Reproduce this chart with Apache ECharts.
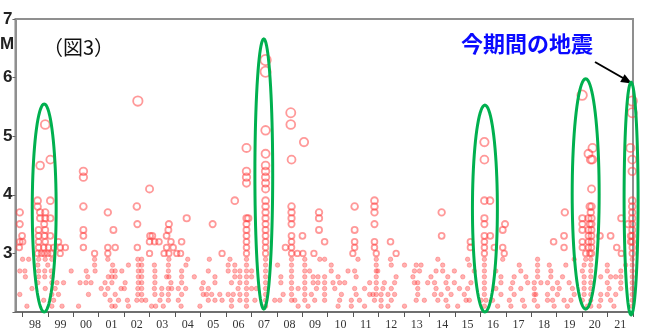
<!DOCTYPE html>
<html>
<head>
<meta charset="utf-8">
<script src="https://cdn.jsdelivr.net/npm/echarts@6/dist/echarts.min.js"></script>
<style>
  html, body { margin: 0; padding: 0; background: #fff; }
  #main { width: 652px; height: 331px; }
</style>
</head>
<body>
<div id="main"></div>
<script>
// 年ごとの目盛り / ラベル
var tickYears = [1998, 1999, 2000, 2001, 2002, 2003, 2004, 2005, 2006, 2007, 2008, 2009, 2010,
  2011, 2012, 2013, 2014, 2015, 2016, 2017, 2018, 2019, 2020, 2021, 2022];
var yearLabels = ['98', '99', '00', '01', '02', '03', '04', '05', '06', '07', '08', '09', '10',
  '11', '12', '13', '14', '15', '16', '17', '18', '19', '20', '21'];
var magTicks = [3, 4, 5, 6, 7];

// M3.0 以上の地震 [年, M]
var bigQuakes = [
  [2002.54, 5.6], [1998.9, 5.2], [1999.1, 4.6], [1998.7, 4.5], [2000.4, 4.4], [2000.4, 4.3], [2003.0, 4.1],
  [1998.6, 3.9], [1999.1, 3.9], [1998.6, 3.8], [2000.4, 3.8], [2002.5, 3.8],
  [1997.9, 3.7], [1998.7, 3.7], [1998.9, 3.7], [2001.36, 3.7],
  [1998.7, 3.6], [1998.9, 3.6], [1999.1, 3.6], [2004.46, 3.6],
  [1997.9, 3.5], [1998.86, 3.5], [2002.52, 3.5], [2003.76, 3.5], [2005.48, 3.5],
  [1998.64, 3.4], [1998.9, 3.4], [2000.4, 3.4], [2001.58, 3.4], [2003.74, 3.4],
  [1997.99, 3.3], [1998.64, 3.3], [1998.87, 3.3], [1999.1, 3.3], [2000.4, 3.3], [2003.02, 3.3], [2003.11, 3.3], [2003.67, 3.3],
  [1997.9, 3.2], [1998.01, 3.2], [1998.64, 3.2], [1998.9, 3.2], [1999.42, 3.2], [2003.0, 3.2], [2003.2, 3.2], [2003.37, 3.2], [2003.84, 3.2], [2004.26, 3.2],
  [1997.88, 3.1], [1998.64, 3.1], [1998.84, 3.1], [1999.03, 3.1], [1999.23, 3.1], [1999.49, 3.1], [1999.69, 3.1], [2000.4, 3.1], [2001.36, 3.1], [2001.65, 3.1], [2002.52, 3.1], [2003.67, 3.1], [2003.93, 3.1],
  [1998.6, 3.0], [1998.75, 3.0], [1998.87, 3.0], [1999.0, 3.0], [1999.14, 3.0], [1999.49, 3.0], [2000.84, 3.0], [2001.36, 3.0], [2003.0, 3.0], [2003.57, 3.0], [2003.76, 3.0], [2004.07, 3.0], [2004.22, 3.0], [2005.85, 3.0],
  [2007.56, 6.3], [2007.56, 6.1],
  [2008.55, 5.4], [2008.55, 5.2], [2007.56, 5.1], [2009.07, 4.9], [2006.81, 4.8], [2007.56, 4.7], [2008.58, 4.6], [2007.56, 4.5],
  [2006.81, 4.4], [2007.56, 4.4], [2006.81, 4.3], [2007.56, 4.3], [2006.81, 4.2], [2007.56, 4.2], [2007.56, 4.1],
  [2006.35, 3.9], [2007.56, 3.9], [2011.84, 3.9],
  [2007.56, 3.8], [2008.58, 3.8], [2011.06, 3.8], [2011.84, 3.8],
  [2007.56, 3.7], [2008.58, 3.7], [2009.66, 3.7], [2011.84, 3.7],
  [2006.81, 3.6], [2006.88, 3.6], [2007.56, 3.6], [2008.58, 3.6], [2009.66, 3.6],
  [2006.81, 3.5], [2007.56, 3.5], [2008.58, 3.5], [2011.84, 3.5],
  [2006.81, 3.4], [2007.56, 3.4], [2009.66, 3.4], [2011.06, 3.4],
  [2006.81, 3.3], [2007.56, 3.3], [2008.58, 3.3], [2009.01, 3.3],
  [2006.81, 3.2], [2007.56, 3.2], [2008.58, 3.2], [2009.88, 3.2], [2011.06, 3.2], [2011.84, 3.2], [2012.47, 3.2],
  [2006.81, 3.1], [2007.56, 3.1], [2008.34, 3.1], [2008.58, 3.1], [2011.06, 3.1], [2011.84, 3.1],
  [2006.81, 3.0], [2007.56, 3.0], [2008.58, 3.0], [2008.81, 3.0], [2009.03, 3.0], [2009.46, 3.0], [2010.99, 3.0], [2011.91, 3.0], [2012.69, 3.0],
  [2016.16, 4.9], [2016.16, 4.6], [2016.16, 3.9], [2016.38, 3.9], [2016.16, 3.6], [2016.16, 3.5], [2014.48, 3.7], [2014.48, 3.3],
  [2016.97, 3.5], [2016.88, 3.4], [2016.39, 3.3], [2016.16, 3.3], [2016.16, 3.2], [2015.61, 3.2], [2016.16, 3.1], [2015.61, 3.1],
  [2016.88, 3.1], [2016.55, 3.1], [2016.16, 3.0], [2016.94, 3.0],
  [2020.0, 5.7], [2020.41, 4.8], [2020.25, 4.7], [2020.34, 4.6], [2020.4, 4.6], [2020.37, 4.1],
  [2020.3, 3.8], [2020.37, 3.8], [2020.34, 3.7], [2019.32, 3.7], [2020.01, 3.6], [2020.25, 3.6], [2020.37, 3.6],
  [2020.3, 3.5], [2020.01, 3.5], [2020.37, 3.5], [2020.01, 3.4], [2020.25, 3.4], [2020.37, 3.4], [2020.25, 3.3], [2020.37, 3.3],
  [2019.29, 3.3], [2020.7, 3.3], [2018.88, 3.2], [2020.01, 3.2], [2020.25, 3.2], [2020.37, 3.2], [2019.29, 3.1], [2020.01, 3.1],
  [2020.25, 3.1], [2020.37, 3.1], [2020.14, 3.0], [2020.3, 3.0], [2020.37, 3.0],
  [2021.12, 3.3], [2021.36, 3.1], [2021.54, 3.0], [2021.54, 3.6], [2021.8, 3.5], [2021.91, 3.3], [2021.91, 3.2],
  [2021.97, 5.6], [2021.97, 5.4], [2021.9, 4.8], [2021.97, 4.6], [2021.97, 4.4], [2021.97, 3.9], [2021.97, 3.8],
  [2021.97, 3.7], [2021.97, 3.6], [2021.97, 3.5], [2021.97, 3.4], [2021.97, 3.3], [2021.97, 3.2], [2021.97, 3.1], [2021.97, 3.0]
];

// M3.0 未満 (M ごとの発生時期)
var m29 = [1998.01, 1998.25, 1998.64, 1998.90, 1999.16, 2000.84, 2001.36, 2002.54, 2002.69, 2003.76, 2004.50, 2005.35,
  2006.16, 2006.81, 2007.56, 2008.58, 2009.10, 2009.69, 2009.88, 2011.19, 2011.91, 2012.47,
  2014.33, 2015.50, 2016.16, 2016.88, 2018.25, 2019.69, 2020.14, 2020.34, 2021.97];
var m28 = [1998.61, 1999.00, 2000.84, 2001.55, 2002.17, 2002.56, 2002.69, 2003.19, 2003.74, 2004.43,
  2006.09, 2006.35, 2006.81, 2007.56, 2008.03, 2008.58, 2009.10, 2010.14, 2011.91, 2012.50, 2013.02, 2013.48, 2013.67,
  2014.52, 2015.57, 2016.16, 2017.53, 2018.25, 2018.71, 2019.36, 2020.08, 2020.34, 2020.99, 2021.71, 2021.97];
var m27 = [1997.90, 1998.10, 1998.64, 1998.88, 1999.14, 1999.92, 2000.51, 2000.86, 2001.52, 2001.65, 2001.91, 2002.56, 2002.69, 2003.21, 2003.74, 2004.26, 2005.31,
  2006.09, 2006.35, 2006.55, 2006.81, 2007.01, 2007.56, 2008.58, 2009.10, 2009.29, 2010.14, 2010.80, 2011.06, 2011.91, 2011.97, 2013.41, 2013.61,
  2014.26, 2014.52, 2014.98, 2015.76, 2016.16, 2016.61, 2017.59, 2018.25, 2018.77, 2020.01, 2020.34, 2020.99, 2021.52, 2021.97];
var m26 = [1998.12, 1998.64, 1998.88, 1999.16, 2000.57, 2001.38, 2001.52, 2001.65, 2002.56, 2002.69, 2003.21, 2003.67, 2003.76, 2004.26, 2004.76, 2005.57,
  2006.35, 2006.55, 2006.81, 2007.01, 2007.56, 2008.16, 2008.58, 2009.10, 2009.43, 2009.62, 2009.88, 2010.41, 2011.12, 2011.91, 2012.69, 2013.35, 2014.06,
  2014.72, 2015.31, 2016.16, 2016.81, 2017.33, 2017.79, 2018.25, 2018.77, 2019.23, 2020.08, 2020.34, 2020.73, 2021.12, 2021.32, 2021.52, 2021.97];
var m25 = [1998.61, 1999.16, 1999.36, 1999.62, 2000.27, 2000.50, 2000.70, 2001.25, 2001.52, 2002.04, 2002.56, 2002.69, 2003.21, 2003.84, 2004.26, 2005.11, 2005.57,
  2006.22, 2006.55, 2006.81, 2007.56, 2008.16, 2008.58, 2009.10, 2009.43, 2009.62, 2009.88, 2010.21, 2010.47, 2010.67, 2011.65, 2011.91, 2012.23, 2012.63, 2013.41, 2013.54, 2013.93, 2014.20,
  2014.65, 2014.98, 2015.63, 2016.16, 2016.81, 2017.27, 2017.86, 2018.12, 2018.38, 2018.64, 2019.03, 2019.49, 2020.08, 2020.34, 2020.99, 2021.52, 2021.97];
var m24 = [1998.38, 1998.90, 1999.29, 2001.10, 2001.36, 2001.88, 2002.01, 2002.54, 2002.69, 2003.19, 2003.48, 2003.74, 2003.87, 2004.13, 2004.42, 2005.05, 2005.31,
  2006.48, 2006.81, 2007.01, 2007.20, 2007.56, 2008.58, 2008.84, 2009.10, 2009.56, 2009.88, 2010.28, 2011.06, 2011.45, 2011.91, 2012.17, 2012.50, 2013.54,
  2014.26, 2014.72, 2015.18, 2015.50, 2016.16, 2016.61, 2017.20, 2017.59, 2018.12, 2018.84, 2019.10, 2019.62, 2020.08, 2020.34, 2021.06, 2021.52, 2021.97];
var m23 = [1997.90, 1999.16, 1999.42, 2000.60, 2001.25, 2001.65, 2002.54, 2002.69, 2003.21, 2003.48, 2003.74, 2004.26, 2005.11, 2005.24, 2005.44, 2005.76,
  2006.09, 2006.29, 2006.55, 2006.81, 2007.56, 2008.25, 2008.58, 2009.10, 2009.36, 2009.88, 2010.54, 2011.12, 2011.65, 2011.78, 2011.91, 2012.10, 2012.37, 2012.63, 2013.54,
  2014.20, 2014.46, 2014.85, 2015.37, 2016.16, 2016.81, 2017.33, 2018.12, 2018.18, 2018.64, 2019.03, 2019.69, 2020.08, 2020.34, 2020.73, 2020.99, 2021.32, 2021.97];
var m22 = [1998.84, 1999.23, 2001.45, 2001.78, 2002.13, 2002.50, 2002.69, 2002.85, 2003.41, 2003.74, 2004.13, 2005.31, 2005.57, 2005.85,
  2006.22, 2006.55, 2006.81, 2007.14, 2007.56, 2007.92, 2008.12, 2008.58, 2008.71, 2009.10, 2009.49, 2009.88, 2010.47, 2010.93, 2011.25, 2011.84, 2012.10, 2012.50, 2013.48, 2013.80,
  2014.33, 2014.65, 2015.44, 2015.57, 2016.03, 2016.22, 2016.48, 2017.14, 2017.66, 2018.12, 2018.64, 2018.84, 2019.29, 2019.56, 2020.01, 2020.34, 2020.73, 2021.12, 2021.97];
var m21 = [1998.18, 1999.16, 1999.56, 2000.21, 2001.52, 2001.65, 2002.17, 2003.08, 2003.24, 2003.54, 2004.24, 2004.98,
  2006.22, 2006.81, 2007.56, 2008.84, 2009.23, 2010.41, 2010.93, 2011.45, 2012.10, 2012.37, 2013.02,
  2014.72, 2015.11, 2016.16, 2016.68, 2017.20, 2017.73, 2018.25, 2018.90, 2019.42, 2020.21, 2020.34, 2020.67, 2021.25, 2021.97];

// 緑の楕円で囲んだ期間 [年(始), 年(終), M(下), M(上)]
var swarmRanges = [
  [1998.39, 1999.33, 2.0, 5.55],
  [2007.14, 2007.84, 2.05, 6.66],
  [2015.69, 2016.67, 2.0, 5.53],
  [2019.61, 2020.67, 2.05, 5.98],
  [2021.65, 2022.2, 1.95, 5.92]
];

var smallRows = [[2.1, m21], [2.2, m22], [2.3, m23], [2.4, m24], [2.5, m25], [2.6, m26], [2.7, m27], [2.8, m28], [2.9, m29]];
var smallData = [];
smallRows.forEach(function (row) {
  row[1].forEach(function (t) { smallData.push([t, row[0]]); });
});

var myChart = echarts.init(document.getElementById('main'));
var option = {
  animation: false,
  grid: { left: 14, right: 19, top: 19, bottom: 18, show: true, borderColor: '#8f8f8f', borderWidth: 2 },
  xAxis: {
    type: 'value',
    min: 1997.73,
    max: 2022.0,
    splitLine: { show: false },
    axisLine: { lineStyle: { color: '#666', width: 1.5 } },
    axisTick: { show: true, customValues: tickYears, length: 5, lineStyle: { color: '#555' } },
    axisLabel: {
      customValues: tickYears.slice(0, -1).map(function (y) { return y + 0.5; }),
      formatter: function (v) { return yearLabels[Math.floor(v) - 1998]; },
      fontFamily: 'Liberation Serif', fontSize: 12, color: '#333', margin: 7
    }
  },
  yAxis: {
    type: 'value',
    min: 2, max: 7, interval: 1,
    splitLine: { show: false },
    axisLine: { show: true, lineStyle: { color: '#8f8f8f', width: 2 } },
    axisTick: { show: true, length: 3, lineStyle: { color: '#666' } },
    axisLabel: {
      formatter: function (v) { return magTicks.indexOf(v) >= 0 ? String(v) : ''; },
      fontFamily: 'Liberation Sans', fontWeight: 'bold', fontSize: 17, color: '#222', margin: 3
    }
  },
  series: [
    {
      type: 'scatter',
      data: smallData,
      symbolSize: 4.5,
      itemStyle: { color: 'rgba(255,40,40,0.45)', borderColor: 'rgba(255,60,60,0.5)', borderWidth: 0.8 },
      z: 2
    },
    {
      type: 'scatter',
      data: bigQuakes,
      symbolSize: function (d) { return 5.5 + (d[1] - 3) * 1.5; },
      itemStyle: { color: 'rgba(255,255,255,0)', borderColor: 'rgba(255,60,60,0.65)', borderWidth: 1.8 },
      clip: false,
      z: 3
    },
    {
      type: 'custom',
      data: swarmRanges,
      encode: { x: [0, 1], y: [2, 3] },
      clip: false,
      z: 4,
      renderItem: function (params, api) {
        var p0 = api.coord([api.value(0), api.value(2)]);
        var p1 = api.coord([api.value(1), api.value(3)]);
        var cx = (p0[0] + p1[0]) / 2, cy = (p0[1] + p1[1]) / 2;
        var rx = Math.abs(p1[0] - p0[0]) / 2, ry = Math.abs(p1[1] - p0[1]) / 2;
        var pts = [];
        for (var i = 0; i < 80; i++) {
          var a = i / 80 * Math.PI * 2;
          pts.push([cx + rx * Math.cos(a), cy + ry * Math.sin(a)]);
        }
        return {
          type: 'polygon',
          shape: { points: pts },
          style: { fill: 'none', stroke: '#00b04f', lineWidth: 3 }
        };
      }
    }
  ],
  graphic: [
    { type: 'text', left: 0, top: 36, style: { text: 'M', font: 'bold 17px "Liberation Sans"', fill: '#222' } },
    { type: 'text', left: 43, top: 37, style: { text: '（図3）', font: '20px "Noto Sans CJK JP"', fill: '#111' } },
    { type: 'text', left: 461, top: 33, style: { text: '今期間の地震', font: 'bold 22px "Noto Sans CJK JP"', fill: '#0a0aff' } },
    { type: 'line', shape: { x1: 595, y1: 62, x2: 623, y2: 78 }, style: { stroke: '#000', lineWidth: 2 } },
    { type: 'polygon', shape: { points: [[632, 83.5], [624.6, 74.2], [620.2, 82.0]] }, style: { fill: '#000' } }
  ]
};
myChart.setOption(option);
</script>
</body>
</html>
